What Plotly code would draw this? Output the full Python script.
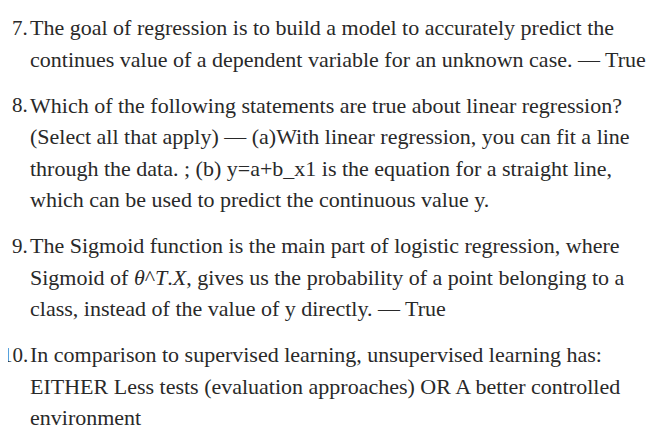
import plotly.graph_objects as go

# list numbers and the wrapped lines of each item, as in the picture
numbers = ["7.", "8.", "9.", "10."]
items = [
    ["The goal of regression is to build a model to accurately predict the",
     "continues value of a dependent variable for an unknown case. \u2014 True"],
    ["Which of the following statements are true about linear regression?",
     "(Select all that apply) \u2014 (a)With linear regression, you can fit a line",
     "through the data. ; (b) y=a+b_x1 is the equation for a straight line,",
     "which can be used to predict the continuous value y."],
    ["The Sigmoid function is the main part of logistic regression, where",
     "Sigmoid of <i>\u03b8</i>^<i>T</i>.<i>X</i>, gives us the probability of a point belonging to a",
     "class, instead of the value of y directly. \u2014 True"],
    ["In comparison to supervised learning, unsupervised learning has:",
     "EITHER Less tests (evaluation approaches) OR A better controlled",
     "environment"],
]

W, H = 662, 442
FONT = dict(family="Liberation Serif, serif", size=22, color="#292929")
NUM_FONT = dict(family="Liberation Serif, serif", size=21, color="#292929")
TEXT_X = 22       # left edge of the item text
NUM_X = 19.5      # right edge of the number
TOP = 19.5        # middle of the first line
LINE = 31.5       # line height
GAP = 14.5        # extra space between items

fig = go.Figure()

y = TOP
for num, lines in zip(numbers, items):
    fig.add_annotation(x=NUM_X / W, y=y, text=num, xref="paper", xanchor="right",
                       yanchor="middle", showarrow=False, font=NUM_FONT,
                       borderpad=0, borderwidth=0)
    for i, line in enumerate(lines):
        fig.add_annotation(x=TEXT_X, y=y + i * LINE, text=line, xanchor="left",
                           yanchor="middle", showarrow=False, font=FONT,
                           borderpad=0, borderwidth=0)
    y += len(lines) * LINE + GAP

fig.update_xaxes(range=[0, W], visible=False, fixedrange=True)
fig.update_yaxes(range=[H, 0], visible=False, fixedrange=True)
fig.update_layout(width=W, height=H, margin=dict(l=0, r=0, t=0, b=0),
                  paper_bgcolor="white", plot_bgcolor="white", showlegend=False)

fig.write_html("out.html")
